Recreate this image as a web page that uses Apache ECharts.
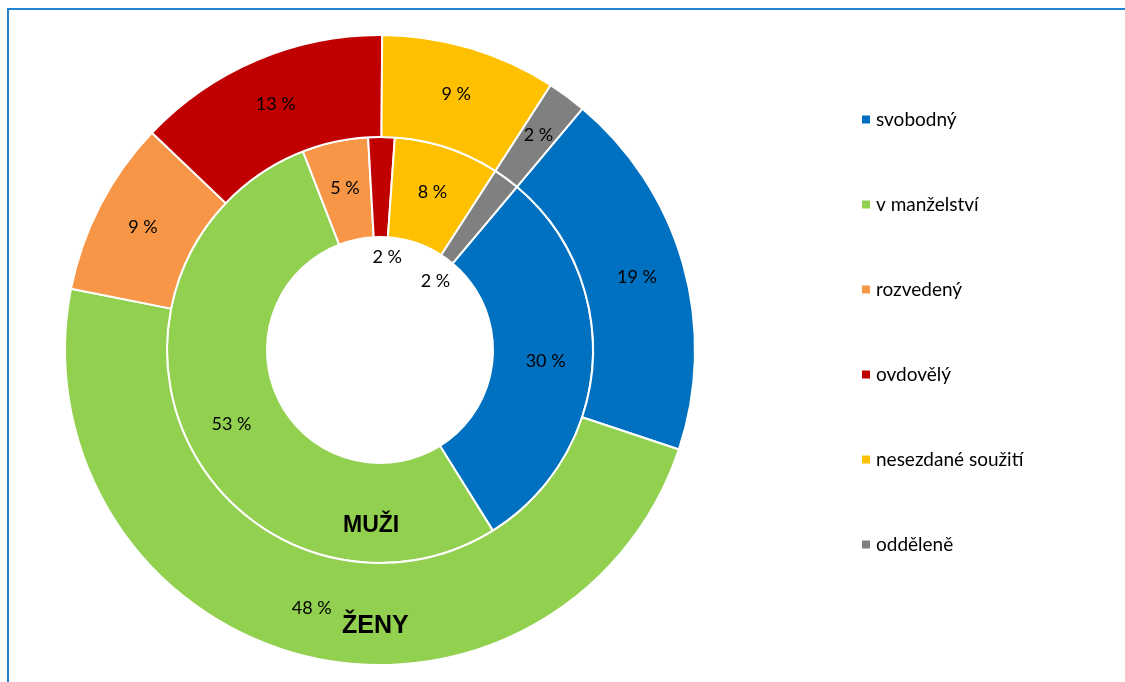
<!DOCTYPE html>
<html>
<head>
<meta charset="utf-8">
<script src="https://cdn.jsdelivr.net/npm/echarts@6/dist/echarts.min.js"></script>
<style>
	html, body { margin: 0; padding: 0; background: #fff; }
	#main { width: 1125px; height: 682px; }
</style>
</head>
<body>
<div id="main"></div>
<script>
	// kategorie (poradi legendy)
	var categories = ['svobodný', 'v manželství', 'rozvedený', 'ovdovělý', 'nesezdané soužití', 'odděleně'];
	var colors = ['#0070C0', '#92D050', '#F79646', '#C00000', '#FFC000', '#808080'];
	// hodnoty v %
	var muzi = [30, 53, 5, 2, 8, 2];
	var zeny = [19, 48, 9, 13, 9, 2];

	// posunute popisky malych vysecu uvnitr (muzi)
	var innerOffsets = {3: [6, 73], 5: [-43, 65]};

	var font = 'Lato, "Noto Sans", sans-serif';

	function makeData(values, offsets) {
		var arr = [];
		for (var i = 0; i < values.length; i++) {
			var item = {
				name: categories[i],
				value: values[i],
				itemStyle: { color: colors[i] }
			};
			if (offsets && offsets[i]) {
				item.label = { offset: offsets[i] };
			}
			arr.push(item);
		}
		return arr;
	}

	var myChart = echarts.init(document.getElementById('main'));

	var labelStyle = {
		show: true,
		position: 'inside',
		formatter: '{c} %',
		color: '#000',
		fontFamily: font,
		fontSize: 18
	};

	var option = {
		animation: false,
		backgroundColor: '#fff',
		legend: {
			orient: 'vertical',
			left: 855,
			top: 105,
			itemWidth: 10,
			itemHeight: 10,
			itemGap: 66,
			icon: 'rect',
			data: categories,
			textStyle: {
				color: '#000',
				fontFamily: font,
				fontSize: 19
			}
		},
		graphic: [{
				type: 'rect',
				silent: true,
				shape: { x: 8, y: 9, width: 1300, height: 900 },
				style: { fill: 'none', stroke: '#2383D6', lineWidth: 2 }
			},
			{
				type: 'text',
				left: 343,
				top: 514,
				z: 100,
				style: {
					text: 'MUŽI',
					fill: '#000',
					font: 'bold 23px "Liberation Sans", Arial, sans-serif'
				}
			},
			{
				type: 'text',
				left: 342,
				top: 614,
				z: 100,
				style: {
					text: 'ŽENY',
					fill: '#000',
					font: 'bold 25px "Liberation Sans", Arial, sans-serif'
				}
			}
		],
		series: [{
				name: 'MUŽI',
				type: 'pie',
				center: [380, 350],
				radius: [113, 213],
				startAngle: 50,
				clockwise: true,
				avoidLabelOverlap: false,
				itemStyle: { borderColor: '#fff', borderWidth: 2 },
				label: labelStyle,
				labelLine: { show: false },
				emphasis: { disabled: true },
				data: makeData(muzi, innerOffsets)
			},
			{
				name: 'ŽENY',
				type: 'pie',
				center: [380, 350],
				radius: [213, 315],
				startAngle: 50,
				clockwise: true,
				avoidLabelOverlap: false,
				itemStyle: { borderColor: '#fff', borderWidth: 2 },
				label: labelStyle,
				labelLine: { show: false },
				emphasis: { disabled: true },
				data: makeData(zeny)
			}
		]
	};

	option && myChart.setOption(option);
</script>
</body>
</html>
